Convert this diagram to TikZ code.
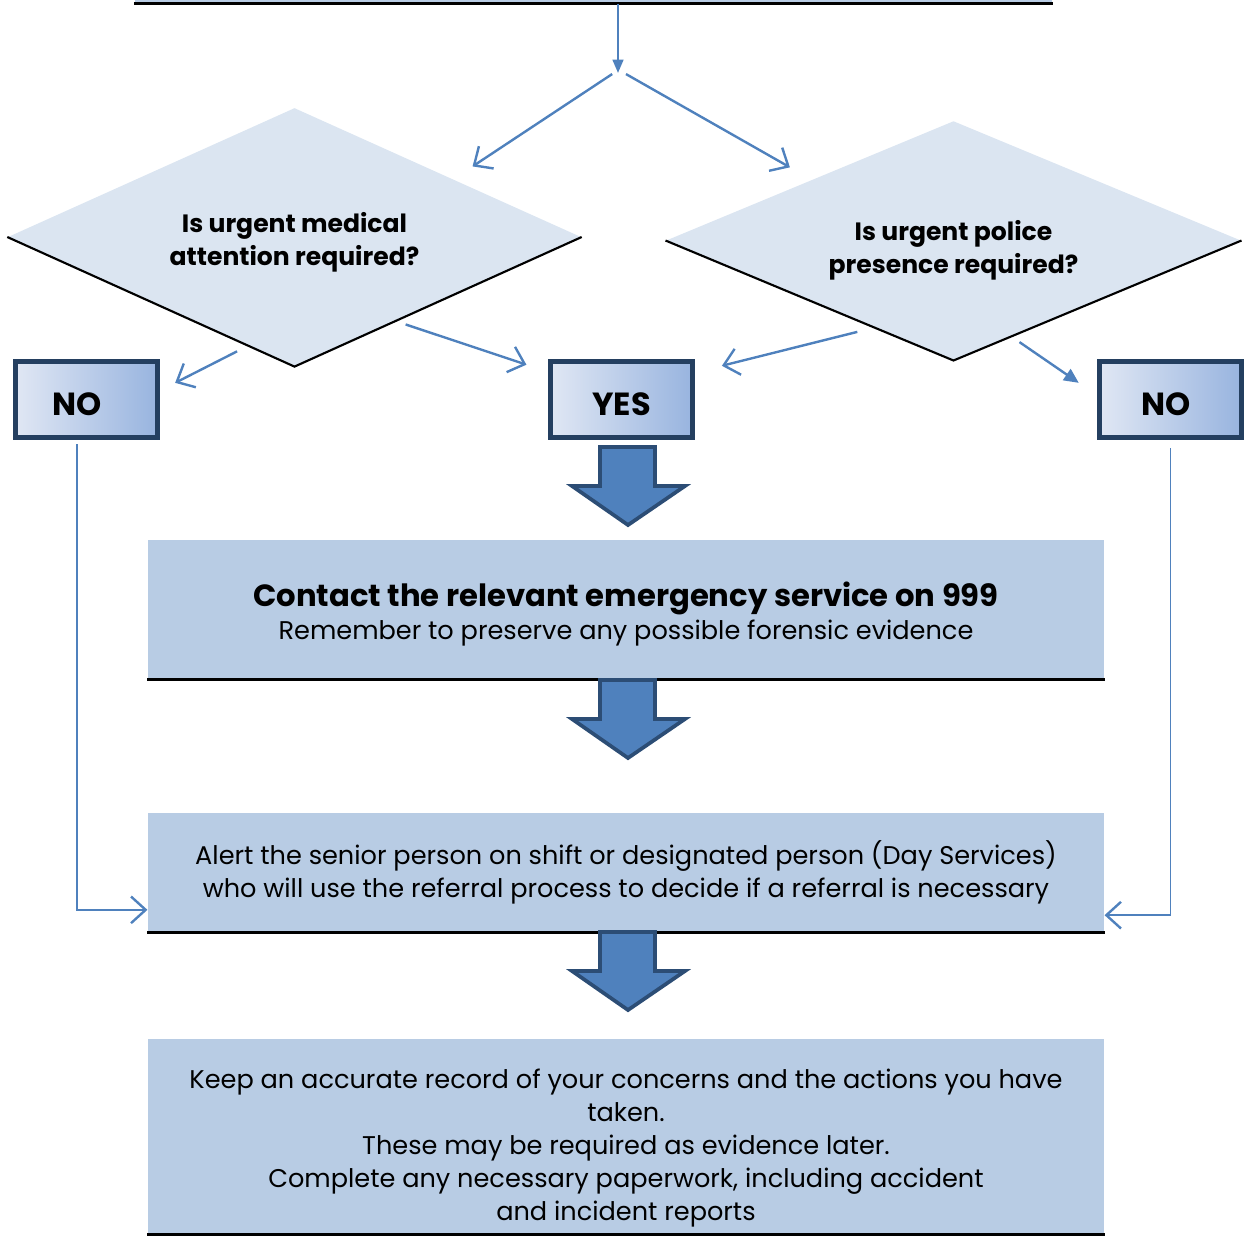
\documentclass[tikz,border=0pt]{standalone}
\usepackage{fontspec}
\setmainfont{Poppins}
\usetikzlibrary{shapes.geometric,arrows.meta,calc}

\definecolor{diafill}{HTML}{DBE5F1}
\definecolor{actfill}{HTML}{B8CCE4}
\definecolor{ansleft}{HTML}{E0E7F4}
\definecolor{ansright}{HTML}{98B4DF}
\definecolor{ansline}{HTML}{243F60}
\definecolor{flowblue}{HTML}{4F81BD}
\definecolor{flowedge}{HTML}{2C4D75}

\begin{document}
\begin{tikzpicture}[x=0.375pt,y=-0.375pt,
	decision/.style={diamond, fill=diafill, inner sep=0pt, aspect=2.22},
	question/.style={align=center, inner sep=0pt, font=\bfseries\fontsize{9.4}{12.4}\selectfont},
	answer/.style={rectangle, draw=ansline, line width=2pt, left color=ansleft, right color=ansright, minimum width=53.3pt, minimum height=28.5pt, text height=12pt, font=\bfseries\fontsize{12}{14}\selectfont},
	action/.style={rectangle, fill=actfill, minimum width=358.5pt},
	actiontext/.style={align=center, inner sep=0pt, font=\fontsize{9.6}{12.4}\selectfont},
	baseline/.style={line width=1.1pt},
	link/.style={draw=flowblue, line width=0.9pt, -{Straight Barb[length=5.5pt,width=10pt,line width=0.9pt]}},
	bigarrow/.style={fill=flowblue, draw=flowedge, line width=1.4pt, line join=miter}
	]
	\useasboundingbox (0,0) rectangle (1244,1236);
	% the box above, mostly cut off
	\node[action, minimum width=344pt, minimum height=40pt, anchor=south] (top) at (593.5,3.5) {};
	\draw[baseline] (top.south west) -- (top.south east);
	\coordinate (split) at (618,73);
	\draw[link, -{Triangle[length=5pt,width=4pt]}] (top.south -| split) -- (split);
	
	% questions
	\node[decision, minimum width=215pt, minimum height=96.8pt] (medical) at (294.5,237) {};
	\node[decision, minimum width=215.6pt, minimum height=89.6pt] (police) at (953.5,240.5) {};
	\node[question] (medq) at ([yshift=-2pt]medical) {Is urgent medical\\attention required?};
	\node[question] (polq) at ([yshift=-3.5pt]police) {Is urgent police\\presence required?};
	\draw[line width=0.8pt] (medical.west) -- (medical.south) -- (medical.east);
	\draw[line width=0.8pt] (police.west) -- (police.south) -- (police.east);
	\draw[link] ([xshift=-2.2pt,yshift=-0.4pt]split) -- ([yshift=8pt]$(medical.north)!0.62!(medical.east)$);
	\draw[link] ([xshift=3pt,yshift=-0.4pt]split) -- ([yshift=8pt]$(police.north)!0.568!(police.west)$);
	
	% answers
	\node[answer] (nomed) at (86.5,399.5) {NO\kern7pt};
	\node[answer] (yes) at (621.5,399.5) {YES};
	\node[answer] (nopol) at (1170.5,399.5) {NO\kern3.4pt};
	\draw[link] ([yshift=-4pt]$(medical.south)!0.2!(medical.west)$) -- ([xshift=5.6pt,yshift=-9pt]nomed.north east);
	\draw[link] ([yshift=-3pt]$(medical.south)!0.387!(medical.east)$) -- ([xshift=-8pt,yshift=-2.2pt]yes.north west);
	\draw[link] ([yshift=-4.3pt]$(police.south)!0.334!(police.west)$) -- ([xshift=10pt,yshift=-2.6pt]yes.north east);
	\draw[link, -{Triangle[length=5.5pt,width=5pt]}] ([yshift=-3.4pt]$(police.south)!0.229!(police.east)$) -- ([xshift=-6.75pt,yshift=-9pt]nopol.north west);
	
	% actions
	\node[action, minimum height=52pt] (call) at (626,609.5) {};
	\node[action, minimum height=44.6pt] (alert) at (626,872.5) {};
	\node[action, minimum height=73.1pt] (record) at (626,1136.5) {};
	\foreach \stage in {call,alert,record}
		\draw[baseline] (\stage.south west) -- (\stage.south east);
	\node[actiontext] (calltext) at ([yshift=-1.6pt]call) {{\bfseries\fontsize{11.5}{13.5}\selectfont Contact the relevant emergency service on 999}\\Remember to preserve any possible forensic evidence};
	\node[actiontext] (alerttext) at (alert) {Alert the senior person on shift or designated person (Day Services)\\who will use the referral process to decide if a referral is necessary};
	\node[actiontext] (recordtext) at ([yshift=-4.4pt]record) {Keep an accurate record of your concerns and the actions you have\\taken.\\These may be required as evidence later.\\Complete any necessary paperwork, including accident\\and incident reports};
	
	% block arrows
	\foreach \y in {447,680,932}
		\draw[bigarrow] (600,\y) -- (655,\y) -- (655,\y+39) -- (685,\y+39) -- (628,\y+78) -- (572,\y+39) -- (600,\y+39) -- cycle;
	
	% the NO paths
	\draw[link, line width=0.7pt, shorten <=1.5pt] ([xshift=-3.7pt]nomed.south) |- ([yshift=-14pt]alert.west);
	\draw[link, line width=0.7pt, shorten <=3pt] (nopol.south) |- ([yshift=-16pt]alert.east);
\end{tikzpicture}
\end{document}
